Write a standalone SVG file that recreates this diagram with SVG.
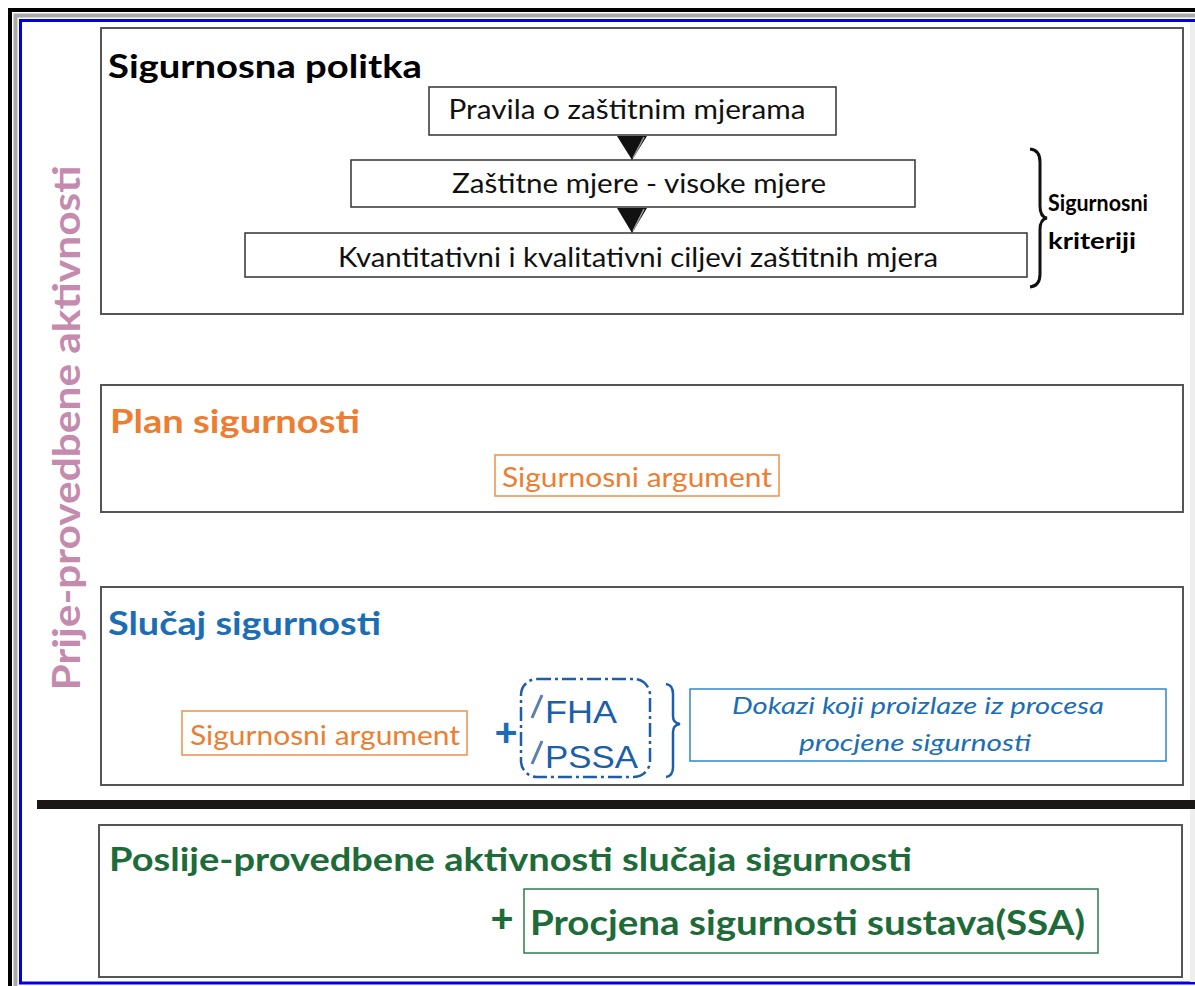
<svg xmlns="http://www.w3.org/2000/svg" width="1195" height="986" viewBox="0 0 1195 986">
<style>
.box{fill:#fff;stroke:#555;stroke-width:2}
.ibox{fill:#fff;stroke:#333;stroke-width:1.5}
.t{font-family:Lato,"Liberation Sans",sans-serif}
.h{font-weight:bold;font-size:32px}
.n{font-size:26px;fill:#111}
.or{fill:#ED7D31}
.bl{fill:#1C6EB4}
.gr{fill:#1E6B3A}
</style>
<rect x="0" y="0" width="1195" height="986" fill="#fff"/>
<g id="frame">
<rect x="10" y="10" width="1200" height="990" fill="none" stroke="#000" stroke-width="4"/>
<rect x="15.5" y="15.5" width="1190" height="980" fill="none" stroke="#aaa" stroke-width="4"/>
<rect x="20.5" y="20.5" width="1180" height="962.5" fill="none" stroke="#0000E0" stroke-width="3"/>
<rect x="1190" y="22" width="5" height="960" fill="#eee"/>
</g>
<g id="side-label">
<text class="t" transform="translate(80,428) rotate(-90)" text-anchor="middle" font-weight="bold" font-size="38" fill="#C58BAE" textLength="525" lengthAdjust="spacingAndGlyphs">Prije-provedbene aktivnosti</text>
</g>
<g id="sigurnosna-politka">
<rect class="box" x="101" y="28" width="1082" height="286"/>
<text class="t h" x="108" y="78" fill="#000" textLength="314" lengthAdjust="spacingAndGlyphs">Sigurnosna politka</text>
</g>
<g id="pravila">
<rect class="ibox" x="429" y="87" width="407" height="48"/>
<text class="t n" x="627" y="119" text-anchor="middle" textLength="357" lengthAdjust="spacingAndGlyphs">Pravila o zaštitnim mjerama</text>
</g>
<g id="zastitne">
<rect class="ibox" x="351" y="160" width="564" height="47"/>
<text class="t n" x="639" y="193" text-anchor="middle" textLength="374" lengthAdjust="spacingAndGlyphs">Zaštitne mjere - visoke mjere</text>
</g>
<g id="ciljevi">
<rect class="ibox" x="245" y="233" width="782" height="44"/>
<text class="t n" x="638" y="267" text-anchor="middle" textLength="600" lengthAdjust="spacingAndGlyphs">Kvantitativni i kvalitativni ciljevi zaštitnih mjera</text>
</g>
<g id="connectors">
<polygon points="617,136 647,136 632,160" fill="#111"/>
<line x1="644" y1="137" x2="633" y2="158" stroke="#999" stroke-width="1.5"/>
<polygon points="617,208 647,208 632,233" fill="#111"/>
<line x1="644" y1="209" x2="633" y2="231" stroke="#999" stroke-width="1.5"/>
</g>
<g id="sigurnosni-kriteriji">
<path d="M1030,149 Q1040,150 1040,162 L1040,206 Q1040,217 1047,218 Q1040,219 1040,230 L1040,274 Q1040,286 1030,287" fill="none" stroke="#111" stroke-width="3"/>
<text class="t" x="1048" y="211" font-weight="bold" font-size="22" fill="#000" textLength="100" lengthAdjust="spacingAndGlyphs">Sigurnosni</text>
<text class="t" x="1048" y="249" font-weight="bold" font-size="22" fill="#000" textLength="88" lengthAdjust="spacingAndGlyphs">kriteriji</text>
</g>
<g id="plan-sigurnosti">
<rect class="box" x="101" y="385" width="1082" height="127"/>
<text class="t h or" x="110" y="433" textLength="250" lengthAdjust="spacingAndGlyphs">Plan sigurnosti</text>
</g>
<g id="plan-argument">
<rect x="495" y="455" width="284" height="41" fill="#fff" stroke="#F0904A" stroke-width="1.5"/>
<text class="t or" x="637" y="487" text-anchor="middle" font-size="26" textLength="270" lengthAdjust="spacingAndGlyphs">Sigurnosni argument</text>
</g>
<g id="slucaj-sigurnosti">
<rect class="box" x="101" y="587" width="1082" height="198"/>
<text class="t h bl" x="108" y="635" textLength="273" lengthAdjust="spacingAndGlyphs">Slučaj sigurnosti</text>
</g>
<g id="slucaj-argument">
<rect x="182" y="711" width="285" height="44" fill="#fff" stroke="#F0904A" stroke-width="1.5"/>
<text class="t or" x="325" y="745" text-anchor="middle" font-size="26" textLength="270" lengthAdjust="spacingAndGlyphs">Sigurnosni argument</text>
</g>
<g id="plus-blue">
<text class="t bl" x="506" y="746" text-anchor="middle" font-weight="900" font-size="40">+</text>
</g>
<g id="fha-pssa">
<rect x="521" y="679" width="129" height="98" rx="16" fill="none" stroke="#1C5FA8" stroke-width="2.5" stroke-dasharray="14,4,3,4"/>
<line x1="532" y1="718" x2="542" y2="695" stroke="#5A7FB0" stroke-width="3"/>
<line x1="532" y1="764" x2="542" y2="741" stroke="#5A7FB0" stroke-width="3"/>
<text x="545" y="723" font-family="Liberation Sans,Arial,sans-serif" font-size="31" fill="#1C5FA8" textLength="72" lengthAdjust="spacingAndGlyphs">FHA</text>
<text x="545" y="768" font-family="Liberation Sans,Arial,sans-serif" font-size="31" fill="#1C5FA8" textLength="93" lengthAdjust="spacingAndGlyphs">PSSA</text>
</g>
<g id="dokazi">
<path d="M666,684 Q673,685 673,694 L673,716 Q673,723 680,724 Q673,725 673,732 L673,767 Q673,776 666,777" fill="none" stroke="#1C5FA8" stroke-width="2.5"/>
<rect x="690" y="689" width="476" height="72" fill="#fff" stroke="#2E86C8" stroke-width="1.5"/>
<text class="t bl" x="918" y="714" text-anchor="middle" font-style="italic" font-size="24" textLength="372" lengthAdjust="spacingAndGlyphs">Dokazi koji proizlaze iz procesa</text>
<text class="t bl" x="915" y="751" text-anchor="middle" font-style="italic" font-size="24" textLength="232" lengthAdjust="spacingAndGlyphs">procjene sigurnosti</text>
</g>
<g id="separator">
<rect x="37" y="800" width="1158" height="9" fill="#1a1716"/>
</g>
<g id="poslije">
<rect class="box" x="99" y="825" width="1083" height="152"/>
<text class="t h gr" x="109" y="871" textLength="803" lengthAdjust="spacingAndGlyphs">Poslije-provedbene aktivnosti slučaja sigurnosti</text>
</g>
<g id="plus-green">
<text class="t gr" x="502" y="932" text-anchor="middle" font-weight="900" font-size="40">+</text>
</g>
<g id="ssa">
<rect x="524" y="889" width="574" height="64" fill="#fff" stroke="#2E7D4A" stroke-width="1.5"/>
<text class="t gr" x="530" y="935" font-weight="bold" font-size="34" textLength="555" lengthAdjust="spacingAndGlyphs">Procjena sigurnosti sustava(SSA)</text>
</g>
</svg>
